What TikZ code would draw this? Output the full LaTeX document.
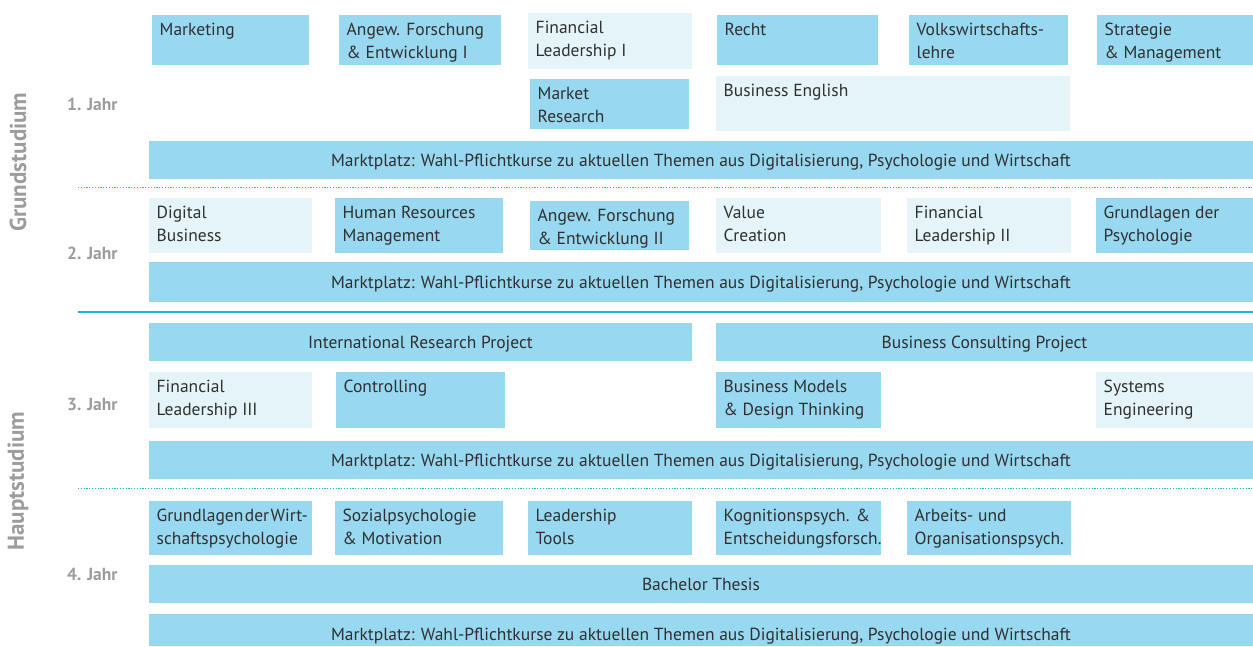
\documentclass[tikz,border=0pt]{standalone}
\usepackage{fontspec}
\setmainfont{PT Sans}
\definecolor{dk}{HTML}{98D8F0}
\definecolor{lt}{HTML}{E4F4F8}
\definecolor{ln}{HTML}{1EB4DC}
\definecolor{tx}{HTML}{303030}
\definecolor{gr}{HTML}{9C9C9C}
\tikzset{
  dkbox/.style={fill=dk, draw=none, inner sep=0pt, outer sep=0pt},
  ltbox/.style={fill=lt, draw=none, inner sep=0pt, outer sep=0pt},
  txt/.style={inner sep=0pt, text=tx, font=\fontsize{17.5}{23}\selectfont},
  ctxt/.style={inner sep=0pt, text=tx, font=\fontsize{17.5}{23}\selectfont, anchor=base},
  yearlbl/.style={inner sep=0pt, text=gr, font=\fontsize{17.5}{20}\selectfont\bfseries, anchor=base west},
  phaselbl/.style={inner sep=0pt, text=gr, font=\fontsize{23}{26}\selectfont\bfseries, rotate=90},
  dotline/.style={draw=ln, line width=1.2pt, dash pattern=on 1.2pt off 1.6pt},
  solidline/.style={draw=ln, line width=2pt}
}
\newcommand\kbox[7]{%
  \node[#2, anchor=north west, minimum width=#5-#3, minimum height=#6-#4] (#1) at (#3,#4) {};
  \node[txt, anchor=base west] (#1t) at ([xshift=7.5pt,yshift=-20pt]#1.north west) {\begin{tabular}[t]{@{}l@{}}#7\end{tabular}};
}
\newcommand\kbar[6]{%
  \node[dkbox, anchor=north west, minimum width=#4-#2, minimum height=#5-#3] (#1) at (#2,#3) {};
  \node[ctxt] (#1t) at ([yshift=-6.5pt]#1.center) {#6};
}
\begin{document}
\begin{tikzpicture}[x=1pt,y=-1pt]
\useasboundingbox (0,0) rectangle (1253,646);
% Row 1
\kbox{m1}{dkbox}{152}{15}{309}{65}{Marketing}
\kbox{a1}{dkbox}{339}{15}{501}{65}{Angew. Forschung\\\& Entwicklung I}
\kbox{f1}{ltbox}{528}{13}{692}{69}{Financial\\Leadership I}
\kbox{r1}{dkbox}{717}{15}{878}{65}{Recht}
\kbox{v1}{dkbox}{909}{15}{1068}{65}{Volkswirtschafts-\\lehre}
\kbox{s1}{dkbox}{1097}{15}{1253}{65}{Strategie\\\& Management}
\kbox{mr}{dkbox}{530}{79}{689}{129}{Market\\Research}
\kbox{be}{ltbox}{716}{76}{1070}{131}{Business English}
\kbar{mp1}{149}{141}{1253}{179}{Marktplatz: Wahl-Pflichtkurse zu aktuellen Themen aus Digitalisierung, Psychologie und Wirtschaft}
% Row 2
\kbox{db}{ltbox}{149}{198}{312}{253}{Digital\\Business}
\kbox{hr}{dkbox}{335}{198}{503}{253}{Human Resources\\Management}
\kbox{a2}{dkbox}{530}{201}{689}{250}{Angew. Forschung\\\& Entwicklung II}
\kbox{vc}{ltbox}{716}{198}{881}{253}{Value\\Creation}
\kbox{f2}{ltbox}{907}{198}{1071}{253}{Financial\\Leadership II}
\kbox{gp}{dkbox}{1096}{198}{1253}{253}{Grundlagen der\\Psychologie}
\kbar{mp2}{149}{262}{1253}{302}{Marktplatz: Wahl-Pflichtkurse zu aktuellen Themen aus Digitalisierung, Psychologie und Wirtschaft}
% Row 3
\kbar{irp}{149}{323}{692}{361}{International Research Project}
\kbar{bcp}{716}{323}{1253}{361}{Business Consulting Project}
\kbox{f3}{ltbox}{149}{372}{312}{428}{Financial\\Leadership III}
\kbox{co}{dkbox}{336}{372}{505}{428}{Controlling}
\kbox{bm}{dkbox}{716}{372}{881}{428}{Business Models\\\& Design Thinking}
\kbox{se}{ltbox}{1096}{372}{1253}{428}{Systems\\Engineering}
\kbar{mp3}{149}{441}{1253}{479}{Marktplatz: Wahl-Pflichtkurse zu aktuellen Themen aus Digitalisierung, Psychologie und Wirtschaft}
% Row 4
\kbox{gw}{dkbox}{149}{501}{312}{555}{{\spaceskip=1.5pt Grundlagen der Wirt-}\\schaftspsychologie}
\kbox{sp}{dkbox}{335}{501}{503}{555}{Sozialpsychologie\\\& Motivation}
\kbox{ld}{dkbox}{528}{501}{692}{555}{Leadership\\Tools}
\kbox{kp}{dkbox}{716}{501}{881}{555}{Kognitionspsych. \&\\Entscheidungsforsch.}
\kbox{ao}{dkbox}{907}{501}{1071}{555}{Arbeits- und\\Organisationspsych.}
\kbar{bt}{149}{565}{1253}{603}{Bachelor Thesis}
\kbar{mp4}{149}{614}{1253}{646}{}
\node[ctxt] (mp4t) at (701,640) {Marktplatz: Wahl-Pflichtkurse zu aktuellen Themen aus Digitalisierung, Psychologie und Wirtschaft};
% separators
\coordinate (d1a) at (78,187.5); \coordinate (d1b) at (1253,187.5);
\coordinate (s1a) at (78,311.5); \coordinate (s1b) at (1253,311.5);
\coordinate (d2a) at (78,488.5); \coordinate (d2b) at (1253,488.5);
\draw[dotline] (d1a) -- (d1b);
\draw[solidline] (s1a) -- (s1b);
\draw[dotline] (d2a) -- (d2b);
% labels
\node[yearlbl] (y1) at (67,110) {1. Jahr};
\node[yearlbl] (y2) at (67,259) {2. Jahr};
\node[yearlbl] (y3) at (67,410.5) {3. Jahr};
\node[yearlbl] (y4) at (67,580.5) {4. Jahr};
\node[phaselbl] (gs) at (18,162) {Grundstudium};
\node[phaselbl] (hs) at (18,481) {Hauptstudium};
\end{tikzpicture}
\end{document}
